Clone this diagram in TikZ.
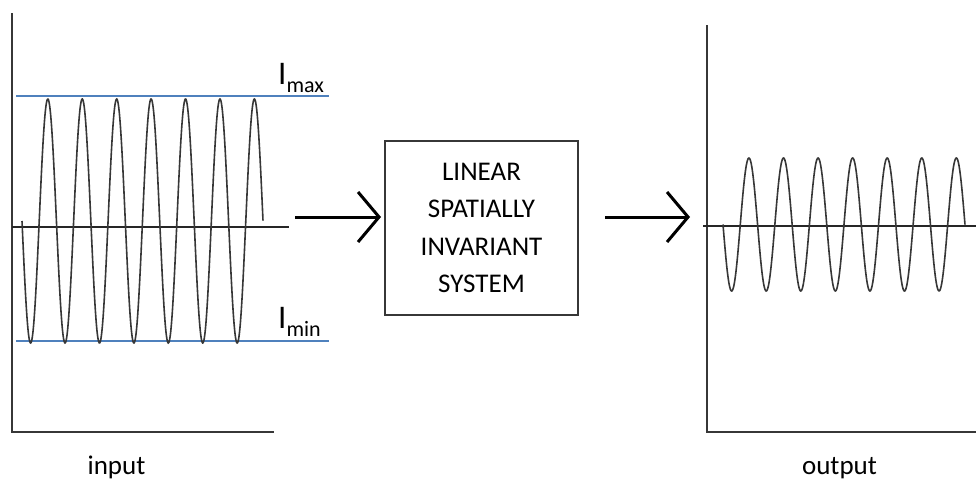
\documentclass[tikz,border=0pt]{standalone}
\usepackage{fontspec}
\setmainfont{Carlito}
\usetikzlibrary{arrows.meta}
\definecolor{levelblue}{RGB}{79,129,189}
\definecolor{axisgray}{RGB}{55,55,55}
\tikzset{
  axisline/.style={draw=axisgray, line width=1.6pt},
  midline/.style={draw=black!85, line width=1.5pt},
  waveline/.style={draw=axisgray, line width=1.6pt},
  levelline/.style={draw=levelblue, line width=1.4pt},
  flowarrow/.style={draw=black, line width=3pt, -{Straight Barb[length=21pt, width=50pt, line width=3pt]}},
  sysbox/.style={draw=axisgray, line width=1.5pt, minimum width=193pt, minimum height=174pt, inner sep=0pt,
                 align=center, font=\fontsize{27}{37.5}\selectfont},
  caption/.style={font=\fontsize{27}{27}\selectfont, anchor=base, inner sep=0pt},
  levellabel/.style={anchor=base west, inner sep=0pt}
}
\newcommand{\levelname}[1]{{\fontsize{33}{33}\selectfont I}\raisebox{-8.5pt}{\fontsize{22}{22}\selectfont #1}}
\begin{document}
\begin{tikzpicture}[x=1pt, y=-1pt]
  \useasboundingbox (0,0) rectangle (976,482);

  % input plot: axes, zero line, intensity limits and input signal
  \coordinate (inO) at (12,432);
  \coordinate (inTop) at (12,13);
  \coordinate (inEnd) at (274,432);
  \draw[axisline] (inTop) -- (inO) -- (inEnd);
  \coordinate (inZa) at (12,227);
  \coordinate (inZb) at (289,227);
  \draw[midline] (inZa) -- (inZb);
  \coordinate (maxA) at (16,96);
  \coordinate (maxB) at (329,96);
  \coordinate (minA) at (16,341);
  \coordinate (minB) at (329,341);
  \draw[levelline] (maxA) -- (maxB);
  \draw[levelline] (minA) -- (minB);
  \draw[waveline] plot[domain=22:263, samples=500, smooth] (\x, {221 + 122*sin((\x-22)*10.456)});
  \node[levellabel] (imax) at (278,84) {\levelname{max}};
  \node[levellabel] (imin) at (278,328) {\levelname{min}};
  \node[caption] (input) at (116.5,474) {input};

  % the system block
  \node[sysbox] (sys) at (481.5,228) {LINEAR\\SPATIALLY\\INVARIANT\\SYSTEM};
  \coordinate (a1s) at (295,217);
  \coordinate (a1e) at (381,217);
  \coordinate (a2s) at (605,217);
  \coordinate (a2e) at (690,217);
  \draw[flowarrow] (a1s) -- (a1e);
  \draw[flowarrow] (a2s) -- (a2e);

  % output plot: axes, zero line and attenuated output signal
  \coordinate (outO) at (707,432);
  \coordinate (outTop) at (707,25);
  \coordinate (outEnd) at (976,432);
  \draw[axisline] (outTop) -- (outO) -- (outEnd);
  \coordinate (outZa) at (703,226);
  \coordinate (outZb) at (976,226);
  \draw[midline] (outZa) -- (outZb);
  \draw[waveline] plot[domain=723:965, samples=500, smooth] (\x, {224.5 + 66.5*sin((\x-723)*10.414)});
  \node[caption] (output) at (839.5,474) {output};
\end{tikzpicture}
\end{document}
